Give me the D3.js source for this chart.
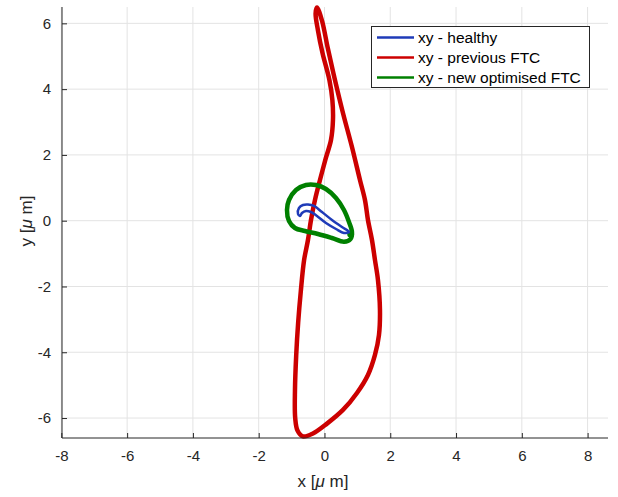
<!DOCTYPE html>
<html>
<head>
<meta charset="utf-8">
<script src="https://cdn.jsdelivr.net/npm/d3@7"></script>
<style>
  body { margin: 0; background: #fff; }
  text { font-family: "Liberation Sans", Arial, Helvetica, sans-serif; }
</style>
</head>
<body>
<svg id="chart"></svg>
<script>
// Width and height of the page
var width = 618, height = 497;

// x/y trajectories in micrometres
var healthyX = [-0.805, -0.775, -0.653, -0.502, -0.319, -0.076, 0.228, 0.532, 0.745, 0.593, 0.350, 0.046, -0.228, -0.410, -0.562, -0.684, -0.745];
var healthyY = [0.204, 0.386, 0.477, 0.492, 0.447, 0.264, 0.021, -0.191, -0.343, -0.374, -0.252, -0.070, 0.143, 0.264, 0.295, 0.234, 0.143];

var prevX = [-0.228, -0.080, 0.100, 0.319, 0.562, 0.836, 1.079, 1.231, 1.322, 1.444, 1.535, 1.626, 1.687, 1.657, 1.535, 1.322, 0.988, 0.562, 0.076, -0.350, -0.655, -0.820, -0.890, -0.897, -0.860, -0.800, -0.720, -0.620, -0.502, -0.410, -0.289, -0.137, 0.040, 0.198, 0.258, 0.240, 0.150, -0.060, -0.200, -0.270];
var prevY = [6.480, 6.100, 5.250, 4.277, 3.274, 2.240, 1.237, 0.629, 0.021, -0.587, -1.195, -1.802, -2.714, -3.475, -4.082, -4.690, -5.237, -5.754, -6.170, -6.470, -6.560, -6.380, -6.000, -5.150, -4.100, -3.100, -2.150, -1.200, -0.587, 0.021, 0.629, 1.237, 1.900, 2.453, 3.061, 3.669, 4.277, 5.100, 5.796, 6.300];

var newX = [-0.562, -0.866, -1.079, -1.140, -1.079, -0.897, -0.593, -0.198, 0.228, 0.593, 0.790, 0.836, 0.745, 0.593, 0.350, 0.046, -0.258];
var newY = [1.085, 0.933, 0.629, 0.325, -0.009, -0.222, -0.313, -0.404, -0.526, -0.640, -0.560, -0.343, -0.040, 0.325, 0.690, 0.964, 1.085];

var xTicks = [-8, -6, -4, -2, 0, 2, 4, 6, 8];
var yTicks = [-6, -4, -2, 0, 2, 4, 6];
var seriesNames = ["xy - healthy", "xy - previous FTC", "xy - new optimised FTC"];
var seriesColors = ["#1f3bb8", "#cc0000", "#008000"];

var svg = d3.select("#chart")
  .attr("width", width)
  .attr("height", height);

// plot box
var plotL = 62, plotR = 608, plotT = 7, plotB = 438;

var x = d3.scaleLinear().domain([-7.98, 8.62]).range([plotL, plotR]);
var y = d3.scaleLinear().domain([-6.607, 6.497]).range([plotB, plotT]);

// grid
var grid = svg.append("g").attr("class", "grid");
grid.selectAll("line.gx")
  .data(xTicks)
  .enter().append("line")
  .attr("class", "gx")
  .attr("x1", d => x(d)).attr("x2", d => x(d))
  .attr("y1", plotT).attr("y2", plotB)
  .attr("stroke", "#e3e3e3").attr("stroke-width", 1);
grid.selectAll("line.gy")
  .data(yTicks)
  .enter().append("line")
  .attr("class", "gy")
  .attr("y1", d => y(d)).attr("y2", d => y(d))
  .attr("x1", plotL).attr("x2", plotR)
  .attr("stroke", "#e3e3e3").attr("stroke-width", 1);

// curves
var line = d3.line()
  .x(d => x(d[0]))
  .y(d => y(d[1]))
  .curve(d3.curveCatmullRomClosed.alpha(0.5));

function pts(xs, ys) { return xs.map((v, i) => [v, ys[i]]); }

svg.append("path")
  .attr("d", line(pts(prevX, prevY)))
  .attr("fill", "none")
  .attr("stroke", seriesColors[1])
  .attr("stroke-width", 4.5)
  .attr("stroke-linejoin", "round");

svg.append("path")
  .attr("d", line(pts(newX, newY)))
  .attr("fill", "none")
  .attr("stroke", seriesColors[2])
  .attr("stroke-width", 4.5)
  .attr("stroke-linejoin", "round");

// small blob at the end of the green loop
svg.append("circle")
  .attr("cx", x(newX[11] - 0.04)).attr("cy", y(newY[11] - 0.06))
  .attr("r", 3.5)
  .attr("fill", seriesColors[2]);

svg.append("path")
  .attr("d", line(pts(healthyX, healthyY)))
  .attr("fill", "none")
  .attr("stroke", seriesColors[0])
  .attr("stroke-width", 2.5)
  .attr("stroke-linejoin", "round");

// axes (ticks point inward like matlab)
var fmt = d => String(d);
var xAxis = d3.axisBottom(x).tickValues(xTicks).tickFormat(fmt).tickSizeInner(-5).tickSizeOuter(0).tickPadding(12);
var yAxis = d3.axisLeft(y).tickValues(yTicks).tickFormat(fmt).tickSizeInner(-5).tickSizeOuter(0).tickPadding(11);

var gx = svg.append("g")
  .attr("transform", "translate(0," + plotB + ")")
  .call(xAxis);
var gy = svg.append("g")
  .attr("transform", "translate(" + plotL + ",0)")
  .call(yAxis);

[gx, gy].forEach(function(g) {
  g.select(".domain").attr("stroke", "#262626").attr("stroke-width", 1);
  g.selectAll(".tick line").attr("stroke", "#262626");
  g.selectAll(".tick text")
    .attr("fill", "#262626")
    .style("font-size", "15px")
    .style("font-family", "Liberation Sans, Arial, sans-serif");
});
gx.select(".domain").attr("d", "M" + plotL + ",0H" + plotR);
gy.select(".domain").attr("d", "M0," + plotT + "V" + plotB);

// axis labels
var xl = svg.append("text")
  .attr("x", 323).attr("y", 487)
  .attr("text-anchor", "middle")
  .attr("fill", "#262626")
  .style("font-size", "17px");
xl.append("tspan").text("x [");
xl.append("tspan").attr("font-style", "italic").text("\u03BC");
xl.append("tspan").text(" m]");

var yl = svg.append("text")
  .attr("transform", "translate(32,221) rotate(-90)")
  .attr("text-anchor", "middle")
  .attr("fill", "#262626")
  .style("font-size", "17px");
yl.append("tspan").text("y [");
yl.append("tspan").attr("font-style", "italic").text("\u03BC");
yl.append("tspan").text(" m]");

// legend
var legend = svg.append("g");
legend.append("rect")
  .attr("x", 371.5).attr("y", 26.5)
  .attr("width", 218).attr("height", 61)
  .attr("fill", "#fff")
  .attr("stroke", "#262626")
  .attr("stroke-width", 1);

var rows = legend.selectAll("g.row")
  .data(seriesNames)
  .enter().append("g")
  .attr("class", "row")
  .attr("transform", (d, i) => "translate(0," + (37.5 + i * 20) + ")");
rows.append("line")
  .attr("x1", 377).attr("x2", 414)
  .attr("stroke", (d, i) => seriesColors[i])
  .attr("stroke-width", 2.5);
rows.append("text")
  .attr("x", 418)
  .attr("dy", "0.35em")
  .attr("fill", "#000")
  .style("font-size", "15.5px")
  .text(d => d);
</script>
</body>
</html>
